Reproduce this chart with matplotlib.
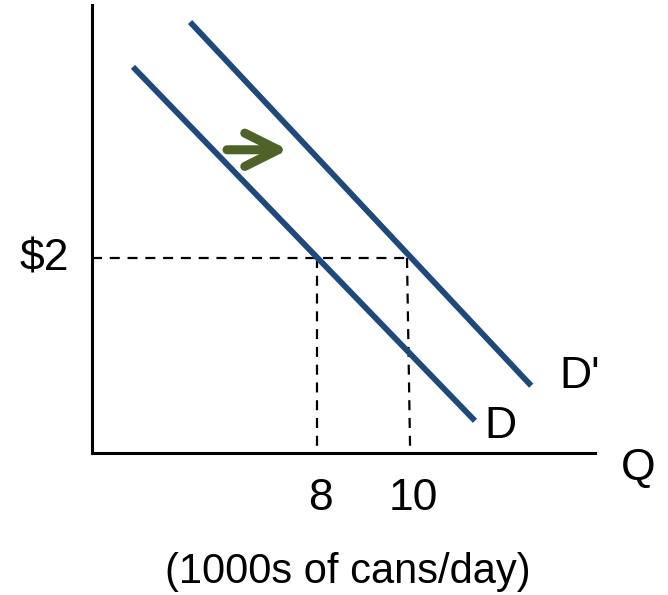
import matplotlib
matplotlib.use("Agg")
import matplotlib.pyplot as plt

plt.rcParams["font.family"] = ["Liberation Sans", "DejaVu Sans"]

# demand curves (quantity in 1000s of cans/day, price in $)
d_q = [3.91, 11.51]
d_p = [3.96, 0.33]
d2_q = [5.18, 12.76]
d2_p = [4.42, 0.69]

price = 2
q_old = 8
q_new = 10
q_new_base = 10.07  # dashed line drifts a touch at the bottom

shift_from = (6.0, 3.11)
shift_to = (7.36, 3.11)

blue = "#1F497D"
green = "#4F6228"

fig = plt.figure(figsize=(6.68, 5.95), dpi=100)
ax = fig.add_axes([92 / 668, 1 - 453 / 595, 503 / 668, 448 / 595])
x0, x1 = 3, 3 + 503 / 45
ax.set_xlim(x0, x1)
ax.set_ylim(0, 448 / 97.5)

for s in ["top", "right"]:
    ax.spines[s].set_visible(False)
for s in ["left", "bottom"]:
    ax.spines[s].set_linewidth(2.2)
ax.set_xticks([])
ax.set_yticks([])

dash = dict(color="black", lw=1.6, dashes=(4.5, 3.5))
ax.plot([x0, q_new], [price, price], **dash)
ax.plot([q_old, q_old], [price, 0], **dash)
ax.plot([q_new, q_new_base], [price, 0], **dash)

ax.plot(d_q, d_p, color=blue, lw=4.2, solid_capstyle="butt")
ax.plot(d2_q, d2_p, color=blue, lw=4.2, solid_capstyle="butt")

ax.annotate("", xy=shift_to, xytext=shift_from,
            arrowprops=dict(arrowstyle="->,head_length=1.2,head_width=0.6",
                            color=green, lw=6.5, mutation_scale=20,
                            capstyle="round", joinstyle="round",
                            shrinkA=0, shrinkB=0))

fs = 32
fig.text(44 / 668, 1 - 259 / 595, "$2", fontsize=fs, ha="center", va="center")
fig.text(320 / 668, 1 - 498 / 595, "8", fontsize=fs, ha="center", va="center")
fig.text(413 / 668, 1 - 498 / 595, "10", fontsize=fs, ha="center", va="center")
fig.text(638 / 668, 1 - 468 / 595, "Q", fontsize=fs, ha="center", va="center")
fig.text(500 / 668, 1 - 427 / 595, "D", fontsize=fs, ha="center", va="center")
fig.text(580 / 668, 1 - 376 / 595, "D'", fontsize=fs, ha="center", va="center")
fig.text(348 / 668, 1 - 572 / 595, "(1000s of cans/day)", fontsize=30,
         ha="center", va="center")

fig.savefig("out.png", dpi=100)
